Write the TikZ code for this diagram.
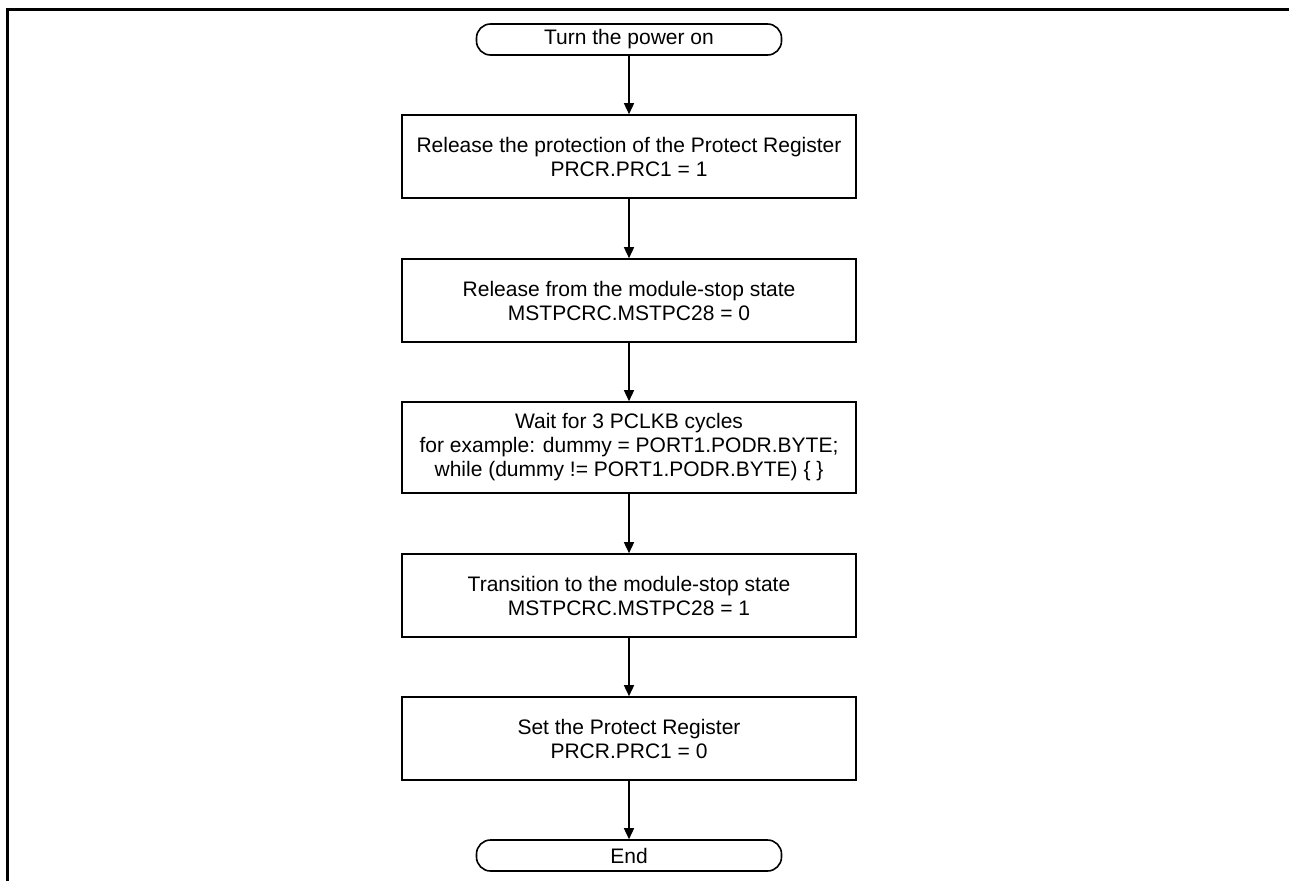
\documentclass[tikz,border=0pt]{standalone}
\usepackage{fontspec}
\setmainfont{Liberation Sans}
\usetikzlibrary{arrows.meta}
\begin{document}
\begin{tikzpicture}[x=1pt,y=-1pt,
  txt/.style={font=\fontsize{21}{24}\selectfont, align=center, inner sep=0pt},
  stepbox/.style={txt, draw, line width=1.6pt, minimum width=454pt, minimum height=83pt},
  term/.style={txt, draw, line width=1.6pt, rounded corners=14pt, minimum width=305pt, minimum height=31pt},
  conn/.style={line width=1.5pt, -{Triangle[length=11pt,width=10pt]}},
  frame/.style={line width=3pt}]
\useasboundingbox (0,0) rectangle (1289,881);
\coordinate (fa) at (7.5,881);
\coordinate (fb) at (7.5,9.5);
\coordinate (fc) at (1289,9.5);
\draw[frame] (fa) -- (fb) -- (fc);
\node[term] (start) at (629,39.5) {Turn the power on};
\node[stepbox] (b1) at (629,156.5) {Release the protection of the Protect Register\\PRCR.PRC1 = 1};
\node[stepbox] (b2) at (629,300.5) {Release from the module-stop state\\MSTPCRC.MSTPC28 = 0};
\node[stepbox, minimum height=91pt] (b3) at (629,447.5) {Wait for 3 PCLKB cycles\\for example: dummy = PORT1.PODR.BYTE;\\while (dummy != PORT1.PODR.BYTE) \{ \}};
\node[stepbox] (b4) at (629,595.5) {Transition to the module-stop state\\MSTPCRC.MSTPC28 = 1};
\node[stepbox] (b5) at (629,738.5) {Set the Protect Register\\PRCR.PRC1 = 0};
\node[term] (end) at (629,855.5) {End};
\draw[conn] (start) -- (b1);
\draw[conn] (b1) -- (b2);
\draw[conn] (b2) -- (b3);
\draw[conn] (b3) -- (b4);
\draw[conn] (b4) -- (b5);
\draw[conn] (b5) -- (end);
\end{tikzpicture}
\end{document}
